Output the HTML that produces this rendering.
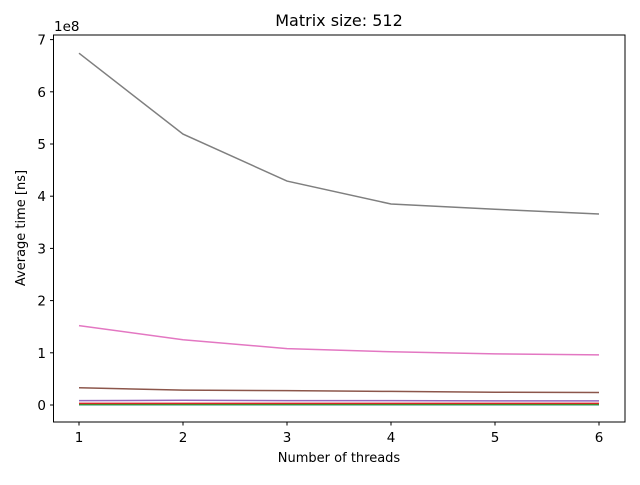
<!DOCTYPE html>
<html><head><meta charset="utf-8"><style>
body{margin:0;background:#fff;}
svg{font-family:"DejaVu Sans","Liberation Sans",sans-serif;}
</style></head><body>
<svg id="chart" width="640" height="480" viewBox="0 0 640 480">
<text x="339" y="26" font-size="16" text-anchor="middle">Matrix size: 512</text>
<text x="54" y="31" font-size="13.5">1e8</text>
<g id="plot"></g>
<rect x="53.5" y="35" width="571.5" height="387" fill="none" stroke="#000" stroke-width="1"/>
<text x="339" y="462" font-size="13" text-anchor="middle">Number of threads</text>
<text transform="translate(25,228) rotate(-90)" font-size="13" text-anchor="middle">Average time [ns]</text>
</svg>
<script>
const threads=[1,2,3,4,5,6];
const xTicks=[1,2,3,4,5,6];
const yTicks=[0,1,2,3,4,5,6,7];
const sBlue=[0.005,0.005,0.005,0.005,0.005,0.005];
const sOrange=[0.015,0.015,0.015,0.015,0.015,0.015];
const sGreen=[0.01,0.01,0.01,0.01,0.01,0.01];
const sRed=[0.03,0.03,0.03,0.03,0.03,0.03];
const sPurple=[0.085,0.09,0.085,0.085,0.08,0.08];
const sBrown=[0.33,0.285,0.275,0.26,0.245,0.24];
const sPink=[1.52,1.25,1.08,1.02,0.98,0.96];
const sGray=[6.74,5.19,4.29,3.85,3.75,3.66];
const series=[[sBlue,'#1f77b4','blue'],[sOrange,'#ff7f0e','orange'],[sGreen,'#2ca02c','green'],[sRed,'#d62728','red'],[sPurple,'#9467bd','purple'],[sBrown,'#8c564b','brown'],[sPink,'#e377c2','pink'],[sGray,'#7f7f7f','gray']];
const X=v=>79+(v-1)*104;
const Y=v=>405-v*52.2;
const ns='http://www.w3.org/2000/svg';
const g=document.getElementById('plot');
function mk(t,a){const e=document.createElementNS(ns,t);for(const k in a)e.setAttribute(k,a[k]);g.appendChild(e);return e;}
xTicks.forEach(t=>{
 const l=mk('line',{x1:X(t),x2:X(t),y1:422,y2:425.5,stroke:'#000'});
 
 
 const tx=mk('text',{x:X(t),y:442,'font-size':13.5,'text-anchor':'middle'});tx.textContent=t;
 
 
});
yTicks.forEach(t=>{
 const l=mk('line',{x1:50,x2:53.5,y1:Y(t),y2:Y(t),stroke:'#000'});
 
 
 const tx=mk('text',{x:46,y:Y(t)+5,'font-size':13.5,'text-anchor':'end'});tx.textContent=t;
 
 
});
series.forEach(([d,c,n])=>{
 const p=mk('polyline',{points:d.map((v,i)=>X(threads[i])+','+Y(v)).join(' '),fill:'none',stroke:c,'stroke-width':1.5});
 
 
});
</script>
</body></html>
